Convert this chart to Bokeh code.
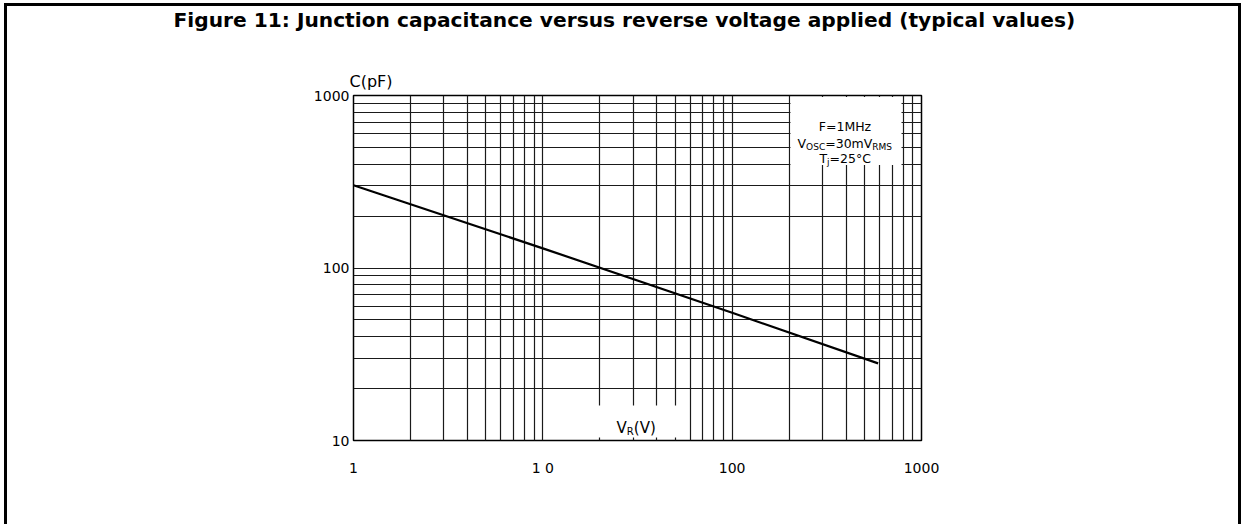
from bokeh.plotting import figure
from bokeh.models import FixedTicker, Label, Title
from bokeh.embed import file_html
from bokeh.resources import INLINE

# ---- data ----
v_values = [1, 10, 100, 590]          # reverse voltage V_R (V)
c_values = [302, 130, 55, 28]         # junction capacitance C (pF)

x_ticks = [1, 10, 100, 1000]
x_tick_labels = ["1", "1 0", "100", "1000"]
y_ticks = [10, 100, 1000]
y_tick_labels = ["10", "100", "1000"]

x_grid = [1, 2, 3, 4, 5, 6, 7, 8, 9, 10, 20, 30, 40, 50, 60, 70, 80, 90,
          100, 200, 300, 400, 500, 600, 700, 800, 900, 1000]
y_grid = [10, 20, 30, 40, 50, 60, 70, 80, 90,
          100, 200, 300, 400, 500, 600, 700, 800, 900, 1000]

title_text = "Figure 11: Junction capacitance versus reverse voltage applied (typical values)"
y_name = "C(pF)"

# ---- layout (page pixels of the frame in the reference) ----
W, H = 1244, 524
FL, FT, FR, FB = 353, 95, 921, 440          # frame edges
DX = (FR - FL) / 3.0
DY = (FB - FT) / 2.0


def xd(px):
    return 10 ** ((px - FL) / DX)


def yd(py):
    return 10 ** (3 - (py - FT) / DY)


FONT = "DejaVu Sans"

p = figure(width=W, height=H, x_axis_type="log", y_axis_type="log",
           x_range=(1, 1000), y_range=(10, 1000),
           output_backend="svg", toolbar_location=None,
           min_border_left=FL, min_border_right=W - FR,
           min_border_top=FT, min_border_bottom=H - FB)
p.background_fill_color = "white"
p.border_fill_color = None
p.outline_line_color = "black"
p.outline_line_width = 1.5
# outer frame of the figure (left, top and right edges)
p.styles = {"box-shadow": "inset 4px 3px 0 0 white, inset -3px 0 0 0 white, "
                          "inset 7px 6px 0 0 black, inset -6px 0 0 0 black"}

# titles: y-axis name next to the frame, a spacer, then the figure title
p.add_layout(Title(text=y_name, align="left", offset=-4, text_font=FONT,
                   text_font_size="16px", text_font_style="normal",
                   text_color="black"), "above")
p.add_layout(Title(text=" ", align="left", text_font=FONT,
                   text_font_size="10px", standoff=20,
                   text_color="white"), "above")
p.title.text = title_text
p.title.align = "left"
p.title.offset = 173 - FL
p.title.standoff = 0
p.title.text_font = FONT
p.title.text_font_size = "20.2px"
p.title.text_font_style = "bold"
p.title.text_color = "black"

# grid
p.xgrid.ticker = FixedTicker(ticks=x_grid)
p.ygrid.ticker = FixedTicker(ticks=y_grid)
for g in (p.xgrid, p.ygrid):
    g.grid_line_color = "#1a1a1a"
    g.grid_line_width = 1.2
    g.grid_line_alpha = 1.0

# axes
p.xaxis.ticker = FixedTicker(ticks=x_ticks, minor_ticks=[])
p.yaxis.ticker = FixedTicker(ticks=y_ticks, minor_ticks=[])
p.xaxis.major_label_overrides = {t: s for t, s in zip(x_ticks, x_tick_labels)}
p.yaxis.major_label_overrides = {t: s for t, s in zip(y_ticks, y_tick_labels)}
for ax in (p.xaxis, p.yaxis):
    ax.axis_line_color = None
    ax.major_tick_line_color = None
    ax.minor_tick_line_color = None
    ax.major_tick_out = 0
    ax.major_tick_in = 0
    ax.major_label_text_font = FONT
    ax.major_label_text_font_size = "14px"
    ax.major_label_text_color = "black"
p.xaxis.major_label_standoff = 19
p.yaxis.major_label_standoff = 4

# white patches that hide the grid behind the annotations
p.quad(left=[xd(790)], right=[xd(901)], top=[yd(96.5)], bottom=[yd(164.5)],
       fill_color="white", line_color=None)
p.quad(left=[xd(544)], right=[xd(688)], top=[yd(405)], bottom=[yd(437)],
       fill_color="white", line_color=None)

# curve
p.line(v_values, c_values, line_color="black", line_width=2.2)


def lab(px, py, text, size, align="left"):
    p.add_layout(Label(x=xd(px), y=yd(py), text=text, text_font=FONT,
                       text_font_size=size, text_align=align,
                       text_baseline="alphabetic", text_color="black"))


# x axis name with subscript
lab(616, 427, "V", "15px")
lab(626.3, 431, "R", "10px")
lab(633.3, 427, "(V)", "15px")
# conditions box
lab(844.5, 125.7, "F=1MHz", "12.5px", align="center")
lab(797, 142.7, "V", "12.5px")
lab(805.6, 146, "OSC", "9px")
lab(824.7, 142.7, "=30mV", "12.5px")
lab(871.8, 146, "RMS", "9px")
lab(819, 157.7, "T", "12.5px")
lab(826.6, 161, "j", "9px")
lab(829.1, 157.7, "=25°C", "12.5px")

open("out.html", "w").write(file_html(p, INLINE))
